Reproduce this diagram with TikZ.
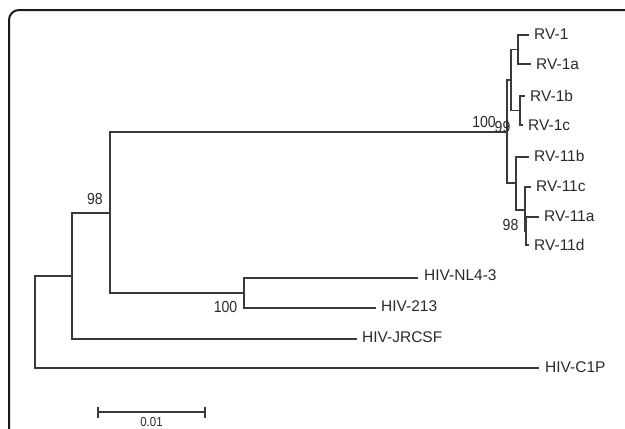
\documentclass[tikz,border=0pt]{standalone}
\usepackage{fontspec}
\setmainfont{Liberation Sans}
\newfontfamily\numfont{Liberation Sans}[FakeStretch=0.88]
\definecolor{linecol}{HTML}{3A3A3A}
\definecolor{txtcol}{HTML}{2A2A2A}
\definecolor{framecol}{HTML}{1A1A1A}
\begin{document}
\begin{tikzpicture}[x=1pt,y=-1pt,
  br/.style={draw=linecol, line width=1.2pt},
  leaf/.style={anchor=west, inner sep=0pt, text=txtcol, font=\fontsize{15.5}{18}\selectfont},
  boot/.style={inner sep=0pt, text=txtcol, font=\numfont\fontsize{16}{18}\selectfont}]
\clip (0,0) rectangle (625,429);
\useasboundingbox (0,0) rectangle (625,429);
% frame
\draw[line width=2pt, draw=framecol, rounded corners=10pt] (9,10) rectangle (690,480);
% internal nodes
\coordinate (r) at (35,322.5);
\coordinate (n1) at (72,276);
\coordinate (n2) at (110,213);
\coordinate (nHIV) at (244,293);
\coordinate (nRV) at (507,132);
\coordinate (nRV1) at (511,80);
\coordinate (nA) at (518,49.5);
\coordinate (nB) at (520,110.5);
\coordinate (nRV11) at (516,183);
\coordinate (nC) at (525,210);
\coordinate (nD) at (526,231);
% leaf ends
\coordinate (lRV1) at (529,35);
\coordinate (lRV1a) at (531,64);
\coordinate (lRV1b) at (525,96);
\coordinate (lRV1c) at (523,125);
\coordinate (lRV11b) at (529,157);
\coordinate (lRV11c) at (531,187);
\coordinate (lRV11a) at (539,217);
\coordinate (lRV11d) at (529,245);
\coordinate (lNL43) at (418,278);
\coordinate (l213) at (376,308);
\coordinate (lJRCSF) at (357,339);
\coordinate (lC1P) at (539,368);
% leaf labels
\node[leaf] (tRV1) at (534,34.5) {RV-1};
\node[leaf] (tRV1a) at (536,64.5) {RV-1a};
\node[leaf] (tRV1b) at (530,95.5) {RV-1b};
\node[leaf] (tRV1c) at (528,125.5) {RV-1c};
\node[leaf] (tRV11b) at (534,156) {RV-11b};
\node[leaf] (tRV11c) at (536,186) {RV-11c};
\node[leaf] (tRV11a) at (544,216) {RV-11a};
\node[leaf] (tRV11d) at (534,245) {RV-11d};
\node[leaf] (tNL43) at (424,275.5) {HIV-NL4-3};
\node[leaf] (t213) at (381,306.5) {HIV-213};
\node[leaf] (tJRCSF) at (362,337.5) {HIV-JRCSF};
\node[leaf] (tC1P) at (545,367.5) {HIV-C1P};
% branches
\draw[br] (r) |- (n1);
\draw[br] (r) |- (lC1P);
\draw[br] (n1) |- (n2);
\draw[br] (n1) |- (lJRCSF);
\draw[br] (n2) |- (nRV);
\draw[br] (n2) |- (nHIV);
\draw[br] (nHIV) |- (lNL43);
\draw[br] (nHIV) |- (l213);
\draw[br] (nRV) |- (nRV1);
\draw[br] (nRV) |- (nRV11);
\draw[br] (nRV1) |- (nA);
\draw[br] (nRV1) |- (nB);
\draw[br] (nA) |- (lRV1);
\draw[br] (nA) |- (lRV1a);
\draw[br] (nB) |- (lRV1b);
\draw[br] (nB) |- (lRV1c);
\draw[br] (nRV11) |- (lRV11b);
\draw[br] (nRV11) |- (nC);
\draw[br] (nC) |- (lRV11c);
\draw[br] (nC) |- (nD);
\draw[br] (nD) |- (lRV11a);
\draw[br] (nD) |- (lRV11d);
% bootstrap values
\node[boot] (b1) at (95,199) {98};
\node[boot] (b2) at (225.5,307) {100};
\node[boot] (b3) at (484,122) {100};
\node[boot] (b4) at (502.5,127) {99};
\node[boot] (b5) at (510.5,225) {98};
% scale bar
\coordinate (sbL) at (98,412);
\coordinate (sbR) at (205,412);
\coordinate (sbL1) at (98,406.5);
\coordinate (sbL2) at (98,417.5);
\coordinate (sbR1) at (205,406.5);
\coordinate (sbR2) at (205,417.5);
\draw[br] (sbL) -- (sbR);
\draw[br] (sbL1) -- (sbL2);
\draw[br] (sbR1) -- (sbR2);
\node[boot, font=\numfont\fontsize{13}{15}\selectfont] (sbt) at (151.5,422.5) {0.01};
\end{tikzpicture}
\end{document}
